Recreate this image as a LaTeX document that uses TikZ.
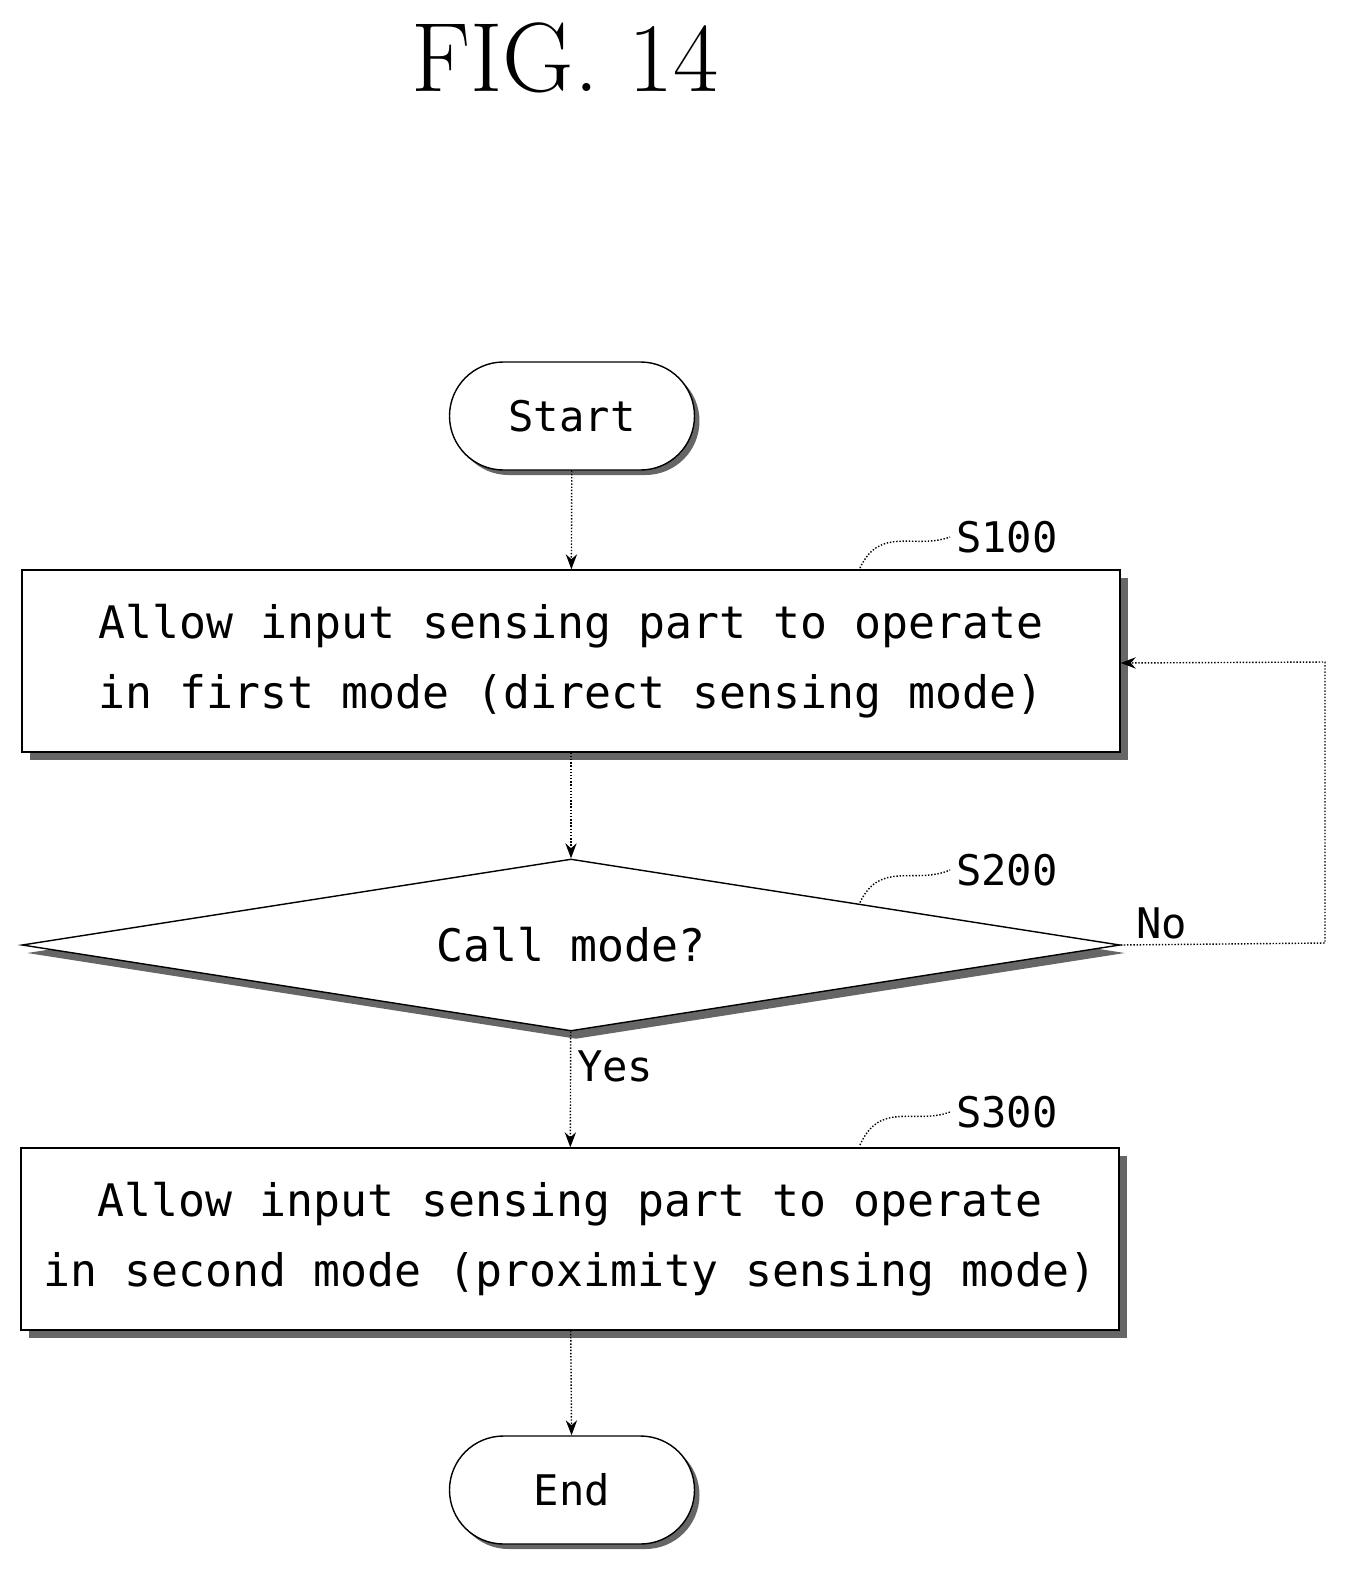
\documentclass[tikz,border=0pt]{standalone}
\usepackage{fontspec}
\setmonofont{DejaVu Sans Mono}
\usetikzlibrary{shapes.geometric,arrows.meta,positioning,shadows}
\tikzset{
  box/.style={draw, thick, fill=white, minimum width=21.96cm, minimum height=3.64cm,
    align=center, font=\ttfamily\fontsize{25.5}{40}\selectfont,
    drop shadow={shadow xshift=0.16cm, shadow yshift=-0.16cm, fill=black!60, opacity=1}},
  term/.style={draw, thick, fill=white, rounded corners=1.08cm, minimum width=4.9cm,
    minimum height=2.16cm, font=\ttfamily\fontsize{24}{28}\selectfont,
    drop shadow={shadow xshift=0.1cm, shadow yshift=-0.1cm, fill=black!60, opacity=1}},
  dec/.style={draw, thick, fill=white, diamond, aspect=6.4, minimum width=21.96cm,
    minimum height=3.44cm, inner sep=0pt, font=\ttfamily\fontsize{25.5}{28}\selectfont,
    drop shadow={shadow xshift=0.1cm, shadow yshift=-0.16cm, fill=black!60, opacity=1}},
  lbl/.style={font=\ttfamily\fontsize{24}{28}\selectfont},
  arr/.style={-{Stealth[length=0.3cm]}, thick, densely dotted},
  squig/.style={thick, densely dotted}
}
\begin{document}
\begin{tikzpicture}
\useasboundingbox (0,0) rectangle (26.96,-31.4);
% title
\node[font=\rmfamily\fontsize{56}{60}\selectfont] (title) at (11.3,-1.16) {FIG. 14};
% flow
\node[term] (start) at (11.44,-8.32) {Start};
\node[box] (s100) at (11.42,-13.22) {Allow input sensing part to operate\\in first mode (direct sensing mode)};
\node[dec] (s200) at (11.42,-18.9) {Call mode?};
\node[box] (s300) at (11.4,-24.78) {Allow input sensing part to operate\\in second mode (proximity sensing mode)};
\node[term] (end) at (11.44,-29.8) {End};
% step labels
\node[lbl, anchor=west] (l100) at (19.0,-10.74) {S100};
\node[lbl, anchor=west] (l200) at (19.0,-17.4) {S200};
\node[lbl, anchor=west] (l300) at (19.0,-22.24) {S300};
\draw[squig] (17.2,-11.36) .. controls (17.6,-10.5) and (18.3,-11.0) .. (l100.west);
\draw[squig] (17.2,-18.05) .. controls (17.6,-17.2) and (18.3,-17.7) .. (l200.west);
\draw[squig] (17.2,-22.9) .. controls (17.6,-22.0) and (18.3,-22.5) .. (l300.west);
% connectors
\draw[arr] (start) -- (s100);
\draw[arr] (s100) -- (s200);
\draw[arr] (s200) -- node[lbl, right, pos=0.3] (yes) {Yes} (s300);
\draw[arr] (s300) -- (end);
\coordinate (c1) at (26.5,-18.86);
\coordinate (c2) at (26.5,-13.24);
\draw[arr] (s200.east) -- (c1) -- (c2) -- ([yshift=-0.02cm]s100.east |- c2);
\node[lbl, anchor=south west] (no) at (22.6,-18.9) {No};
\end{tikzpicture}
\end{document}
